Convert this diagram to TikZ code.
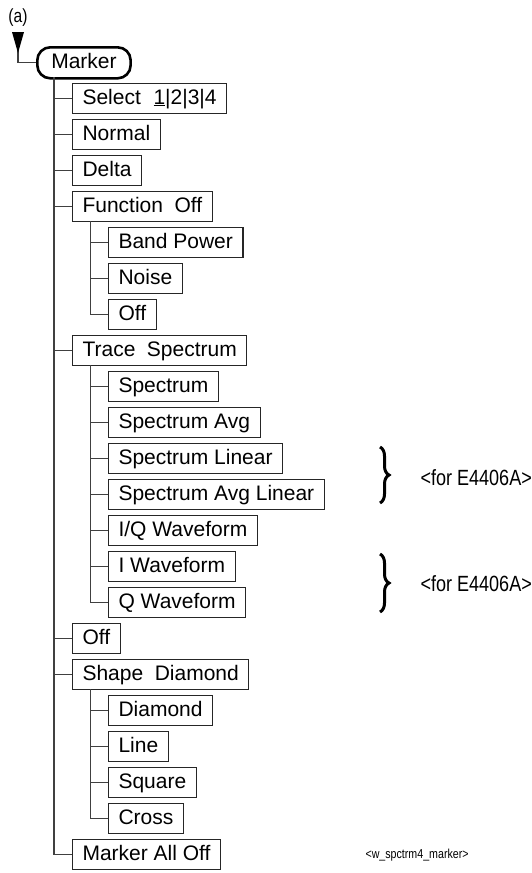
\documentclass[tikz,border=0pt]{standalone}
\usepackage{fontspec}
\setmainfont{Liberation Sans}
\newfontfamily\narrow[FakeStretch=0.82]{Liberation Sans}
\usetikzlibrary{decorations.pathreplacing}
\begin{document}
\begin{tikzpicture}[x=1pt,y=1pt,
  item/.style={draw=black!85, line width=1.1pt, rectangle, anchor=north west,
    text height=15.5pt, text depth=4.5pt, inner xsep=10pt, inner ysep=5pt,
    font=\fontsize{21}{25}\selectfont},
  conn/.style={draw=black!75, line width=1.3pt},
  bracestyle/.style={decorate, decoration={brace, amplitude=9pt}, line width=3pt},
  note/.style={anchor=west, font=\narrow\fontsize{22}{26}\selectfont}]
\useasboundingbox (0,0) rectangle (532,-873);
\node[font=\narrow\fontsize{19}{22}\selectfont] (lbl) at (18,-18) {(a)};
\node[draw, line width=2.6pt, rounded corners=13pt, anchor=north west,
  text height=15.5pt, text depth=4.5pt, inner xsep=14pt, inner ysep=5.5pt,
  font=\fontsize{21}{25}\selectfont] (marker) at (36,-46) {Marker};
\coordinate (a0) at (18,-32);
\draw[conn] (a0) |- (marker.west);
\fill (12,-32) -- (24,-32) -- (18,-53) -- cycle;
% level 1
\node[item] (sel) at (72,-83) {Select\hspace{0.6em}\underline{1}|2|3|4};
\node[item] (nor) at (72,-119) {Normal};
\node[item] (del) at (72,-155) {Delta};
\node[item] (fun) at (72,-191) {Function\hspace{0.55em}Off};
\node[item] (bp) at (108,-227) {Band Power};
\node[item] (noi) at (108,-263) {Noise};
\node[item] (foff) at (108,-299) {Off};
\node[item] (tr) at (72,-335) {Trace\hspace{0.55em}Spectrum};
\node[item] (sp) at (108,-371) {Spectrum};
\node[item] (spa) at (108,-407) {Spectrum Avg};
\node[item] (spl) at (108,-443) {Spectrum Linear};
\node[item] (spal) at (108,-479) {Spectrum Avg Linear};
\node[item] (iq) at (108,-515) {I/Q Waveform};
\node[item] (iw) at (108,-551) {I Waveform};
\node[item] (qw) at (108,-587) {Q Waveform};
\node[item] (off) at (72,-623) {Off};
\node[item] (sh) at (72,-659) {Shape\hspace{0.55em}Diamond};
\node[item] (dia) at (108,-695) {Diamond};
\node[item] (lin) at (108,-731) {Line};
\node[item] (squ) at (108,-767) {Square};
\node[item] (cro) at (108,-803) {Cross};
\node[item] (mao) at (72,-839) {Marker All Off};
% main trunk
\coordinate (t0) at (54,-77);
\draw[conn] (t0) |- (mao.west);
\foreach \n in {sel,nor,del,fun,tr,off,sh}{\draw[conn] (\n.west) -- (\n.west -| t0);}
% function sub-trunk
\coordinate (t1) at (90.5,-221);
\draw[conn] (t1) |- (foff.west);
\foreach \n in {bp,noi}{\draw[conn] (\n.west) -- (\n.west -| t1);}
% trace sub-trunk
\coordinate (t2) at (90.5,-365);
\draw[conn] (t2) |- (qw.west);
\foreach \n in {sp,spa,spl,spal,iq,iw}{\draw[conn] (\n.west) -- (\n.west -| t2);}
% shape sub-trunk
\coordinate (t3) at (90.5,-689);
\draw[conn] (t3) |- (cro.west);
\foreach \n in {dia,lin,squ}{\draw[conn] (\n.west) -- (\n.west -| t3);}
% braces
\draw[bracestyle] (380,-447) -- (380,-503);
\draw[bracestyle] (380,-554) -- (380,-612);
\node[note] (n1) at (417,-478) {<for E4406A>};
\node[note] (n2) at (417,-584) {<for E4406A>};
\node[anchor=west, font=\narrow\fontsize{13}{15}\selectfont] (fn) at (362,-855) {<w\_spctrm4\_marker>};
\end{tikzpicture}
\end{document}
